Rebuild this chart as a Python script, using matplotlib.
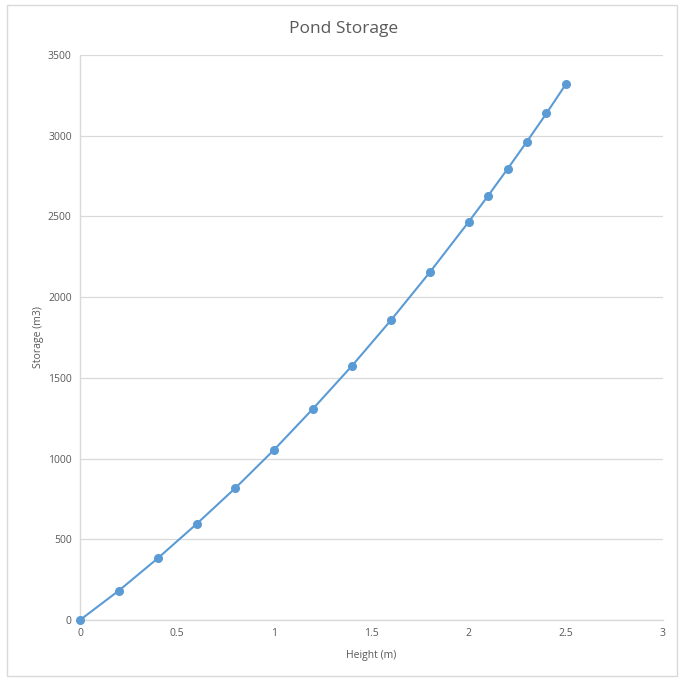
import matplotlib
matplotlib.use('Agg')
import matplotlib.pyplot as plt
from matplotlib.patches import Rectangle

# data
height = [0, 0.2, 0.4, 0.6, 0.8, 1.0, 1.2, 1.4, 1.6, 1.8, 2.0, 2.1, 2.2, 2.3, 2.4, 2.5]
storage = [0, 182, 382, 595, 818, 1056, 1310, 1575, 1857, 2154, 2466, 2628, 2794, 2964, 3138, 3319]

x_ticks = [0, 0.5, 1, 1.5, 2, 2.5, 3]
x_labels = ['0', '0.5', '1', '1.5', '2', '2.5', '3']
y_ticks = [0, 500, 1000, 1500, 2000, 2500, 3000, 3500]

plt.rcParams['font.family'] = ['Open Sans', 'DejaVu Sans']
text_col = '#595959'
grid_col = '#D9D9D9'

fig = plt.figure(figsize=(6.82, 6.79), dpi=100)
ax = fig.add_axes([80 / 682, 1 - 620 / 679, 583 / 682, 565 / 679])

# chart border
fig.patches.append(Rectangle((7 / 682, 1 - 676 / 679), 670 / 682, 671 / 679,
                             transform=fig.transFigure, fill=False,
                             edgecolor=grid_col, linewidth=1))

ax.plot(height, storage, color='#5B9BD5', linewidth=1.5, marker='o',
        markersize=5.5, zorder=3, clip_on=False)

ax.set_xlim(0, 3)
ax.set_ylim(0, 3500)
ax.set_xticks(x_ticks)
ax.set_xticklabels(x_labels)
ax.set_yticks(y_ticks)
ax.tick_params(length=0, labelsize=7.5, colors=text_col, pad=6)
ax.grid(axis='y', color=grid_col, linewidth=0.9)
ax.set_axisbelow(True)
for s in ['top', 'right']:
    ax.spines[s].set_visible(False)
for s in ['left', 'bottom']:
    ax.spines[s].set_color(grid_col)
    ax.spines[s].set_linewidth(1)

fig.text(344 / 682, 1 - 29 / 679, 'Pond Storage', fontsize=12.5, color=text_col,
         ha='center', va='center')
ax.set_xlabel('Height (m)', fontsize=7.5, color=text_col, labelpad=8)
ax.set_ylabel('Storage (m3)', fontsize=7.5, color=text_col, labelpad=3)

fig.savefig('out.png', dpi=100)
